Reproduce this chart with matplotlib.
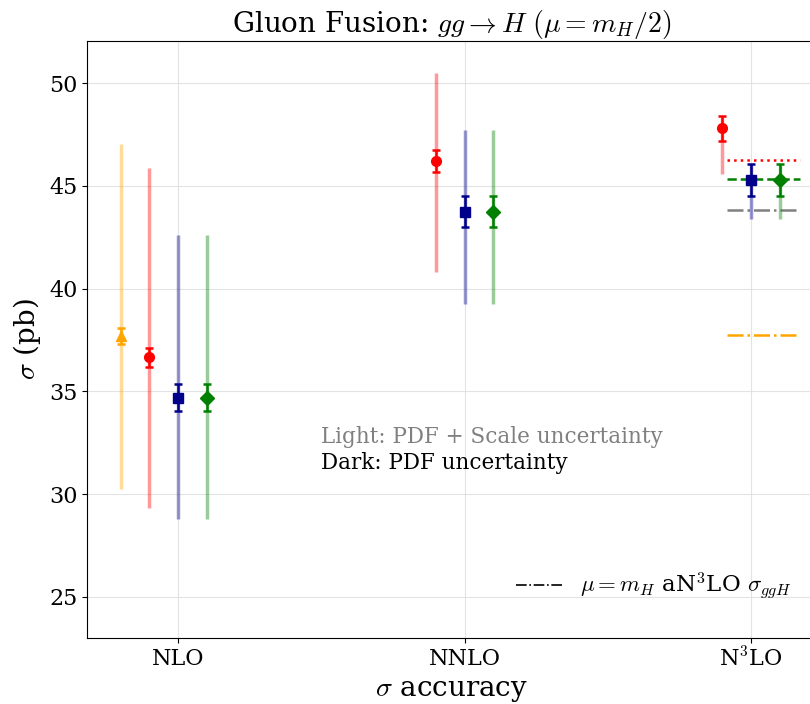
import numpy as np
import matplotlib
matplotlib.use("Agg")
from matplotlib import pyplot as plt

plt.rcParams["font.family"] = "DejaVu Serif"
plt.rcParams["mathtext.fontset"] = "cm"

orders = ["NLO", "NNLO", r"N$^3$LO"]

# central values per PDF set (orange, red, blue, green); None = not shown
orange_c = [37.7, None, None]
red_c = [36.65, 46.2, 47.8]
blue_c = [34.7, 43.75, 45.3]
green_c = [34.7, 43.75, 45.3]

# PDF uncertainty (dark, symmetric)
orange_pdf = [0.4, None, None]
red_pdf = [0.45, 0.55, 0.6]
blue_pdf = [0.65, 0.75, 0.78]
green_pdf = [0.65, 0.75, 0.78]

# PDF + scale envelope (light): low, high
orange_lo = [30.25, None, None]
orange_hi = [47.05, None, None]
red_lo = [29.3, 40.8, 45.6]
red_hi = [45.85, 50.5, 48.3]
blue_lo = [28.8, 39.25, 43.4]
blue_hi = [42.6, 47.7, 46.0]
green_lo = [28.8, 39.25, 43.4]
green_hi = [42.6, 47.7, 46.0]

# aN3LO reference lines at mu = m_H
ref_vals = [46.25, 45.33, 43.82, 37.74]
ref_colors = ["red", "green", "gray", "orange"]
ref_styles = [":", "--", "-.", "-."]

fig = plt.figure(figsize=(8.1, 7.04), dpi=100)
ax = fig.add_axes([0.1074, 0.0938, 0.9, 0.848])

sets = [
    (orange_c, orange_pdf, orange_lo, orange_hi, "orange", "^", -0.2),
    (red_c, red_pdf, red_lo, red_hi, "red", "o", -0.1),
    (blue_c, blue_pdf, blue_lo, blue_hi, "darkblue", "s", 0.0),
    (green_c, green_pdf, green_lo, green_hi, "green", "D", 0.1),
]

for cen, pdf, lo, hi, col, mk, off in sets:
    for i in range(len(orders)):
        if cen[i] is None:
            continue
        x = i + off
        ax.vlines(x, lo[i], hi[i], color=col, alpha=0.4, lw=2.5, zorder=2)
        ax.errorbar(x, cen[i], yerr=pdf[i], fmt=mk, color=col, ms=7,
                    capsize=3, elinewidth=1.8, capthick=1.8, zorder=3)

for v, c, s in zip(ref_vals, ref_colors, ref_styles):
    ax.hlines(v, 1.915, 2.17, colors=c, linestyles=s, lw=1.8, zorder=1)

ax.plot([], [], color="black", ls="-.", lw=1.2, label=r"$\mu=m_H$ aN$^3$LO $\sigma_{ggH}$")
ax.legend(loc="lower right", frameon=False, fontsize=16.5, bbox_to_anchor=(0.995, 0.025))

ax.text(0.5, 32.8, "Light: PDF + Scale uncertainty", color="gray", fontsize=15.5, va="center")
ax.text(0.5, 31.5, "Dark: PDF uncertainty", color="black", fontsize=15.5, va="center")

ax.set_xticks(range(len(orders)))
ax.set_xticklabels(orders)
ax.set_xlim(-0.318, 2.227)
ax.set_ylim(23, 52.05)
ax.set_yticks([25, 30, 35, 40, 45, 50])
ax.tick_params(labelsize=16)
ax.grid(True, color="#dddddd", lw=0.8, alpha=0.8)
ax.set_axisbelow(True)
ax.set_xlabel(r"$\sigma$ accuracy", fontsize=20)
ax.set_ylabel(r"$\sigma$ (pb)", fontsize=20)
ax.set_title(r"Gluon Fusion: $gg\rightarrow H\ (\mu=m_H/2)$", fontsize=20)

fig.savefig("out.png", dpi=100)
